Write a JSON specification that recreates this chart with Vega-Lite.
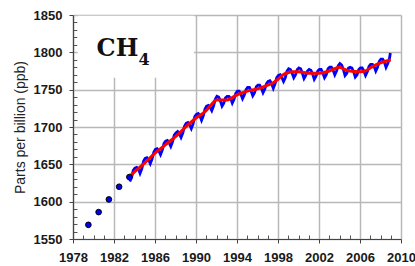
{
  "$schema": "https://vega.github.io/schema/vega-lite/v6.json",
  "width": 328,
  "height": 224,
  "autosize": {"type": "none"},
  "padding": {"left": 73, "top": 15, "right": 14, "bottom": 27},
  "background": "white",
  "config": {"view": {"stroke": null}, "font": "Liberation Sans"},
  "datasets": {
    "annual": [
      {"t": 1979.5, "v": 1569}, {"t": 1980.5, "v": 1586}, {"t": 1981.5, "v": 1603}, {"t": 1982.5, "v": 1620}, {"t": 1983.5, "v": 1633}
    ],
    "monthly": [
      {"t": 1983.54, "v": 1627}, {"t": 1983.71, "v": 1632}, {"t": 1983.88, "v": 1642},
      {"t": 1984.04, "v": 1645}, {"t": 1984.21, "v": 1646}, {"t": 1984.38, "v": 1644}, {"t": 1984.54, "v": 1638}, {"t": 1984.71, "v": 1644}, {"t": 1984.88, "v": 1654},
      {"t": 1985.04, "v": 1658}, {"t": 1985.21, "v": 1659}, {"t": 1985.38, "v": 1656}, {"t": 1985.54, "v": 1651}, {"t": 1985.71, "v": 1657}, {"t": 1985.88, "v": 1666},
      {"t": 1986.04, "v": 1670}, {"t": 1986.21, "v": 1671}, {"t": 1986.38, "v": 1668}, {"t": 1986.54, "v": 1663}, {"t": 1986.71, "v": 1669}, {"t": 1986.88, "v": 1678},
      {"t": 1987.04, "v": 1681}, {"t": 1987.21, "v": 1682}, {"t": 1987.38, "v": 1679}, {"t": 1987.54, "v": 1674}, {"t": 1987.71, "v": 1680}, {"t": 1987.88, "v": 1689},
      {"t": 1988.04, "v": 1692}, {"t": 1988.21, "v": 1694}, {"t": 1988.38, "v": 1691}, {"t": 1988.54, "v": 1686}, {"t": 1988.71, "v": 1692}, {"t": 1988.88, "v": 1701},
      {"t": 1989.04, "v": 1705}, {"t": 1989.21, "v": 1706}, {"t": 1989.38, "v": 1703}, {"t": 1989.54, "v": 1698}, {"t": 1989.71, "v": 1704}, {"t": 1989.88, "v": 1714},
      {"t": 1990.04, "v": 1717}, {"t": 1990.21, "v": 1718}, {"t": 1990.38, "v": 1715}, {"t": 1990.54, "v": 1709}, {"t": 1990.71, "v": 1715}, {"t": 1990.88, "v": 1724},
      {"t": 1991.04, "v": 1728}, {"t": 1991.21, "v": 1729}, {"t": 1991.38, "v": 1726}, {"t": 1991.54, "v": 1722}, {"t": 1991.71, "v": 1728}, {"t": 1991.88, "v": 1737},
      {"t": 1992.04, "v": 1741}, {"t": 1992.21, "v": 1740}, {"t": 1992.38, "v": 1735}, {"t": 1992.54, "v": 1728}, {"t": 1992.71, "v": 1732}, {"t": 1992.88, "v": 1739},
      {"t": 1993.04, "v": 1741}, {"t": 1993.21, "v": 1741}, {"t": 1993.38, "v": 1738}, {"t": 1993.54, "v": 1732}, {"t": 1993.71, "v": 1737}, {"t": 1993.88, "v": 1745},
      {"t": 1994.04, "v": 1748}, {"t": 1994.21, "v": 1748}, {"t": 1994.38, "v": 1744}, {"t": 1994.54, "v": 1738}, {"t": 1994.71, "v": 1743}, {"t": 1994.88, "v": 1750},
      {"t": 1995.04, "v": 1753}, {"t": 1995.21, "v": 1753}, {"t": 1995.38, "v": 1748}, {"t": 1995.54, "v": 1742}, {"t": 1995.71, "v": 1746}, {"t": 1995.88, "v": 1754},
      {"t": 1996.04, "v": 1756}, {"t": 1996.21, "v": 1756}, {"t": 1996.38, "v": 1752}, {"t": 1996.54, "v": 1746}, {"t": 1996.71, "v": 1751}, {"t": 1996.88, "v": 1758},
      {"t": 1997.04, "v": 1761}, {"t": 1997.21, "v": 1762}, {"t": 1997.38, "v": 1758}, {"t": 1997.54, "v": 1752}, {"t": 1997.71, "v": 1758}, {"t": 1997.88, "v": 1766},
      {"t": 1998.04, "v": 1769}, {"t": 1998.21, "v": 1770}, {"t": 1998.38, "v": 1766}, {"t": 1998.54, "v": 1761}, {"t": 1998.71, "v": 1766}, {"t": 1998.88, "v": 1775},
      {"t": 1999.04, "v": 1778}, {"t": 1999.21, "v": 1777}, {"t": 1999.38, "v": 1772}, {"t": 1999.54, "v": 1766}, {"t": 1999.71, "v": 1770}, {"t": 1999.88, "v": 1777},
      {"t": 2000.04, "v": 1779}, {"t": 2000.21, "v": 1778}, {"t": 2000.38, "v": 1772}, {"t": 2000.54, "v": 1765}, {"t": 2000.71, "v": 1769}, {"t": 2000.88, "v": 1775},
      {"t": 2001.04, "v": 1777}, {"t": 2001.21, "v": 1776}, {"t": 2001.38, "v": 1771}, {"t": 2001.54, "v": 1764}, {"t": 2001.71, "v": 1768}, {"t": 2001.88, "v": 1775},
      {"t": 2002.04, "v": 1777}, {"t": 2002.21, "v": 1777}, {"t": 2002.38, "v": 1772}, {"t": 2002.54, "v": 1766}, {"t": 2002.71, "v": 1770}, {"t": 2002.88, "v": 1778},
      {"t": 2003.04, "v": 1780}, {"t": 2003.21, "v": 1780}, {"t": 2003.38, "v": 1776}, {"t": 2003.54, "v": 1770}, {"t": 2003.71, "v": 1775}, {"t": 2003.88, "v": 1782},
      {"t": 2004.04, "v": 1785}, {"t": 2004.21, "v": 1783}, {"t": 2004.38, "v": 1777}, {"t": 2004.54, "v": 1769}, {"t": 2004.71, "v": 1772}, {"t": 2004.88, "v": 1779},
      {"t": 2005.04, "v": 1780}, {"t": 2005.21, "v": 1779}, {"t": 2005.38, "v": 1774}, {"t": 2005.54, "v": 1767}, {"t": 2005.71, "v": 1770}, {"t": 2005.88, "v": 1777},
      {"t": 2006.04, "v": 1779}, {"t": 2006.21, "v": 1779}, {"t": 2006.38, "v": 1775}, {"t": 2006.54, "v": 1769}, {"t": 2006.71, "v": 1774}, {"t": 2006.88, "v": 1781},
      {"t": 2007.04, "v": 1784}, {"t": 2007.21, "v": 1784}, {"t": 2007.38, "v": 1781}, {"t": 2007.54, "v": 1775}, {"t": 2007.71, "v": 1780}, {"t": 2007.88, "v": 1788},
      {"t": 2008.04, "v": 1791}, {"t": 2008.21, "v": 1791}, {"t": 2008.38, "v": 1787}, {"t": 2008.54, "v": 1780}, {"t": 2008.71, "v": 1785}, {"t": 2008.88, "v": 1792},
      {"t": 2008.96, "v": 1799}
    ],
    "trend": [
      {"t": 1983.6, "v": 1635}, {"t": 1984, "v": 1640}, {"t": 1985, "v": 1652}, {"t": 1986, "v": 1665}, {"t": 1987, "v": 1676},
      {"t": 1988, "v": 1687}, {"t": 1989, "v": 1700}, {"t": 1990, "v": 1712}, {"t": 1991, "v": 1722}, {"t": 1991.5, "v": 1730},
      {"t": 1992, "v": 1736}, {"t": 1992.5, "v": 1736}, {"t": 1993, "v": 1736}, {"t": 1993.5, "v": 1739}, {"t": 1994, "v": 1743},
      {"t": 1995, "v": 1748}, {"t": 1996, "v": 1751}, {"t": 1997, "v": 1756}, {"t": 1997.5, "v": 1759}, {"t": 1998, "v": 1764},
      {"t": 1998.5, "v": 1770}, {"t": 1999, "v": 1773}, {"t": 1999.5, "v": 1774}, {"t": 2000, "v": 1774}, {"t": 2001, "v": 1772},
      {"t": 2002, "v": 1772}, {"t": 2003, "v": 1775}, {"t": 2003.5, "v": 1778}, {"t": 2004, "v": 1780}, {"t": 2004.5, "v": 1777},
      {"t": 2005, "v": 1775}, {"t": 2006, "v": 1774}, {"t": 2006.5, "v": 1775}, {"t": 2007, "v": 1779}, {"t": 2007.5, "v": 1783},
      {"t": 2008, "v": 1786}, {"t": 2008.5, "v": 1788}, {"t": 2009, "v": 1790}
    ],
    "box": [{"t": 1978.45, "t2": 1989.8, "v": 1766, "v2": 1849}],
    "main": [{"t": 1980.3, "v": 1795, "label": "CH"}],
    "sub": [{"t": 1984.4, "v": 1783, "label": "4"}]
  },
  "resolve": {"axis": {"x": "independent", "y": "independent"}},
  "layer": [
    {
      "data": {"name": "box"},
      "mark": {"type": "rect", "fill": "white"},
      "encoding": {
        "x": {"field": "t", "type": "quantitative", "scale": {"domain": [1978, 2010], "nice": false, "zero": false}, "axis": null},
        "x2": {"field": "t2"},
        "y": {"field": "v", "type": "quantitative", "scale": {"domain": [1550, 1850], "nice": false, "zero": false}, "axis": null},
        "y2": {"field": "v2"}
      }
    },
    {
      "data": {"name": "monthly"},
      "mark": {"type": "line", "color": "#0000ff", "strokeWidth": 2.8},
      "encoding": {
        "x": {"field": "t", "type": "quantitative", "scale": {"domain": [1978, 2010], "nice": false, "zero": false},
          "axis": {"orient": "bottom", "values": [1979,1980,1981,1983,1984,1985,1987,1988,1989,1991,1992,1993,1995,1996,1997,1999,2000,2001,2003,2004,2005,2007,2008,2009], "labels": false, "grid": false, "domain": false, "tickSize": -4, "tickColor": "#555", "title": null}},
        "y": {"field": "v", "type": "quantitative", "scale": {"domain": [1550, 1850], "nice": false, "zero": false},
          "axis": {"orient": "left", "values": [1560,1570,1580,1590,1610,1620,1630,1640,1660,1670,1680,1690,1710,1720,1730,1740,1760,1770,1780,1790,1810,1820,1830,1840], "labels": false, "grid": false, "domain": false, "tickSize": -4, "tickColor": "#555", "title": null}}
      }
    },
    {
      "data": {"name": "trend"},
      "mark": {"type": "line", "color": "#ff0000", "strokeWidth": 3, "interpolate": "monotone"},
      "encoding": {
        "x": {"field": "t", "type": "quantitative", "scale": {"domain": [1978, 2010], "nice": false, "zero": false}, "axis": null},
        "y": {"field": "v", "type": "quantitative", "scale": {"domain": [1550, 1850], "nice": false, "zero": false}, "axis": null}
      }
    },
    {
      "data": {"name": "annual"},
      "mark": {"type": "point", "filled": true, "fill": "#0000ee", "stroke": "#000000", "strokeWidth": 1, "size": 32, "opacity": 1},
      "encoding": {
        "x": {"field": "t", "type": "quantitative", "scale": {"domain": [1978, 2010], "nice": false, "zero": false},
          "axis": {"orient": "bottom", "values": [1978,1982,1986,1990,1994,1998,2002,2006,2010], "format": "d", "grid": true, "gridColor": "#b8b8b8", "gridWidth": 1.5,
            "domainColor": "#444", "domainWidth": 1.2, "tickColor": "#444", "tickSize": 4, "labelFont": "Liberation Sans", "labelFontWeight": "bold", "labelFontSize": 13,
            "labelColor": "#1a1a1a", "labelPadding": 8, "labelOverlap": false, "labelBound": false, "labelFlush": false, "title": null}},
        "y": {"field": "v", "type": "quantitative", "scale": {"domain": [1550, 1850], "nice": false, "zero": false},
          "axis": {"orient": "left", "values": [1550,1600,1650,1700,1750,1800,1850], "format": "d", "grid": true, "gridColor": "#b8b8b8", "gridWidth": 1.5,
            "domainColor": "#444", "domainWidth": 1.2, "tickColor": "#444", "tickSize": 4, "labelFont": "Liberation Sans", "labelFontWeight": "bold", "labelFontSize": 13,
            "labelColor": "#1a1a1a", "labelPadding": 7, "labelOverlap": false, "labelFlush": false, "title": "Parts per billion (ppb)", "titleFont": "Liberation Sans", "titleFontWeight": "normal",
            "titleFontSize": 14, "titleColor": "#222", "titlePadding": 6}}
      }
    },
    {
      "data": {"name": "main"},
      "mark": {"type": "text", "font": "DejaVu Serif", "fontSize": 24, "fontWeight": "bold", "align": "left", "baseline": "alphabetic", "color": "#111"},
      "encoding": {
        "x": {"field": "t", "type": "quantitative", "scale": {"domain": [1978, 2010], "nice": false, "zero": false}, "axis": null},
        "y": {"field": "v", "type": "quantitative", "scale": {"domain": [1550, 1850], "nice": false, "zero": false}, "axis": null},
        "text": {"field": "label"}
      }
    },
    {
      "data": {"name": "sub"},
      "mark": {"type": "text", "font": "DejaVu Serif", "fontSize": 16, "fontWeight": "bold", "align": "left", "baseline": "alphabetic", "color": "#111"},
      "encoding": {
        "x": {"field": "t", "type": "quantitative", "scale": {"domain": [1978, 2010], "nice": false, "zero": false}, "axis": null},
        "y": {"field": "v", "type": "quantitative", "scale": {"domain": [1550, 1850], "nice": false, "zero": false}, "axis": null},
        "text": {"field": "label"}
      }
    }
  ]
}
